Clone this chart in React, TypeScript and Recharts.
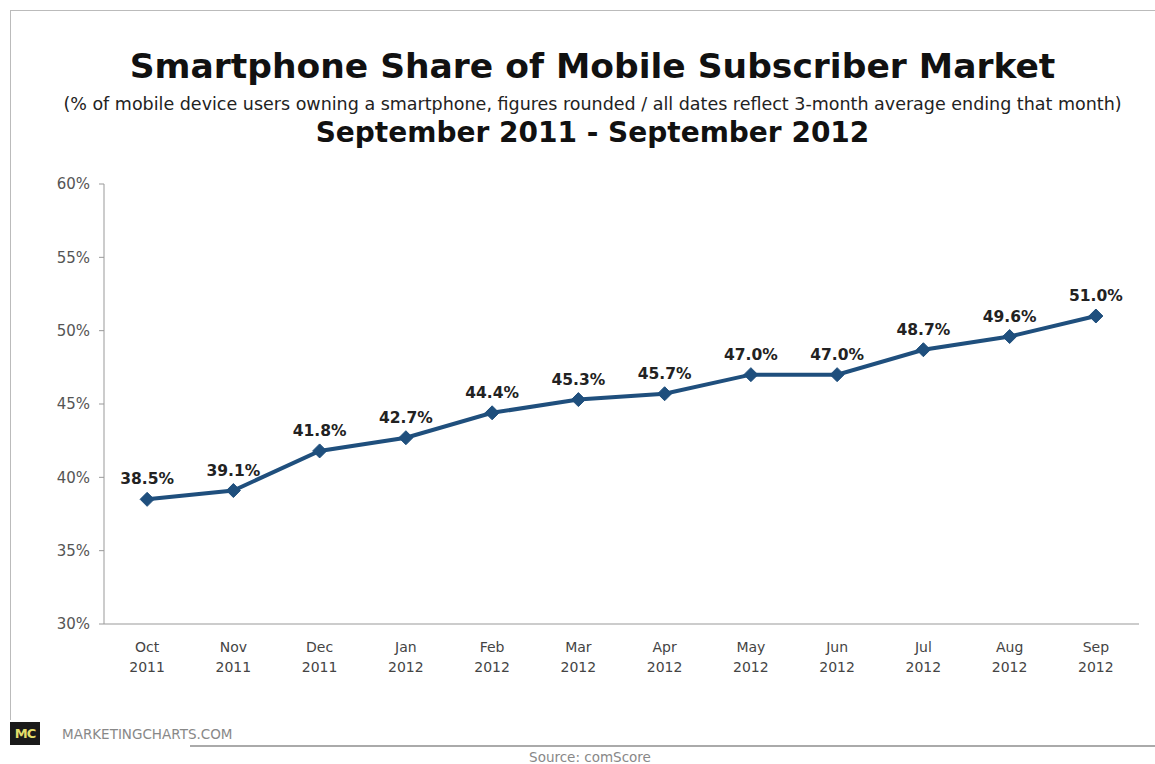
import React from 'react';
import { LineChart, Line, XAxis, YAxis, LabelList } from 'recharts';

// month labels (two lines each)
const months = ['Oct', 'Nov', 'Dec', 'Jan', 'Feb', 'Mar', 'Apr', 'May', 'Jun', 'Jul', 'Aug', 'Sep'];
const years = ['2011', '2011', '2011', '2012', '2012', '2012', '2012', '2012', '2012', '2012', '2012', '2012'];
// smartphone share, %
const share = [38.5, 39.1, 41.8, 42.7, 44.4, 45.3, 45.7, 47.0, 47.0, 48.7, 49.6, 51.0];
const yTicks = [30, 35, 40, 45, 50, 55, 60];

const data = share.map((v, i) => ({ idx: i, share: v }));
const labelTicks = months.map((_, i) => i);
const dividerTicks = [...months.map((_, i) => i - 0.5), months.length - 0.5];

const LINE = '#1f4f7d';
const FONT = '"DejaVu Sans", Verdana, sans-serif';

const Diamond = (props: any) => {
    const { cx, cy } = props;
    if (cx == null || cy == null) return null;
    const s = 7;
    return (
        <polygon
            points={`${cx},${cy - s} ${cx + s},${cy} ${cx},${cy + s} ${cx - s},${cy}`}
            fill={LINE}
            stroke={LINE}
        />
    );
};

const MonthTick = (props: any) => {
    const { x, y, payload } = props;
    const i = payload.value;
    return (
        <text x={x} y={y} textAnchor="middle" fontFamily={FONT} fontSize={14} fill="#444">
            <tspan x={x} dy={15}>{months[i]}</tspan>
            <tspan x={x} dy={20}>{years[i]}</tspan>
        </text>
    );
};

const App: React.FC = () => {
    return (
        <div style={{ position: 'absolute', left: 0, top: 0, width: 1155, height: 764, background: '#fff', fontFamily: FONT }}>
            {/* frame */}
            <div style={{ position: 'absolute', left: 10, top: 10, width: 1160, height: 735, border: '1px solid #bbb', borderRight: 'none' }} />

            <div style={{ position: 'absolute', left: 0, width: 1185, top: 45, textAlign: 'center', fontWeight: 'bold', fontSize: 34.5, color: '#111', lineHeight: '42px' }}>
                Smartphone Share of Mobile Subscriber Market
            </div>
            <div style={{ position: 'absolute', left: 0, width: 1185, top: 92, textAlign: 'center', fontSize: 17.5, color: '#222', lineHeight: '24px' }}>
                (% of mobile device users owning a smartphone, figures rounded / all dates reflect 3-month average ending that month)
            </div>
            <div style={{ position: 'absolute', left: 0, width: 1185, top: 116, textAlign: 'center', fontWeight: 'bold', fontSize: 28, color: '#111', lineHeight: '34px' }}>
                September 2011 - September 2012
            </div>

            <div style={{ position: 'absolute', left: 0, top: 0 }}>
                <LineChart width={1155} height={764} data={data} margin={{ top: 184, right: 16, bottom: 70, left: 0 }}>
                    <XAxis
                        xAxisId="axis"
                        dataKey="idx"
                        type="number"
                        domain={[-0.5, 11.5]}
                        ticks={dividerTicks}
                        tick={false}
                        tickSize={5}
                        stroke="#999"
                        height={5}
                    />
                    <XAxis
                        xAxisId="labels"
                        dataKey="idx"
                        type="number"
                        domain={[-0.5, 11.5]}
                        ticks={labelTicks}
                        tick={<MonthTick />}
                        tickLine={false}
                        axisLine={false}
                        height={65}
                    />
                    <YAxis
                        domain={[30, 60]}
                        ticks={yTicks}
                        tickFormatter={(v) => `${v}%`}
                        tick={{ fontSize: 15, fill: '#555', fontFamily: FONT }}
                        tickSize={5}
                        tickMargin={9}
                        stroke="#999"
                        width={104}
                    />
                    <Line
                        xAxisId="axis"
                        dataKey="share"
                        stroke={LINE}
                        strokeWidth={4}
                        dot={<Diamond />}
                        activeDot={false}
                        isAnimationActive={false}
                    >
                        <LabelList
                            dataKey="share"
                            position="top"
                            offset={15}
                            formatter={(v: any) => `${Number(v).toFixed(1)}%`}
                            style={{ fontSize: 15.5, fontWeight: 'bold', fill: '#222', fontFamily: FONT }}
                        />
                    </Line>
                </LineChart>
            </div>

            {/* logo + source */}
            <div style={{ position: 'absolute', left: 8, top: 720, width: 700, height: 30, background: '#fff' }} />
            <div style={{ position: 'absolute', left: 10, top: 722, width: 30, height: 23, background: '#1a1a1a', color: '#e3df6a', fontWeight: 'bold', fontSize: 13, lineHeight: '23px', textAlign: 'center', letterSpacing: -1 }}>
                MC
            </div>
            <div style={{ position: 'absolute', left: 62, top: 726, fontSize: 13.5, color: '#888' }}>MARKETINGCHARTS.COM</div>
            <div style={{ position: 'absolute', left: 190, top: 745, width: 980, height: 2, background: '#aaa' }} />
            <div style={{ position: 'absolute', left: 0, width: 1180, top: 749, textAlign: 'center', fontSize: 13.5, color: '#888' }}>Source: comScore</div>
        </div>
    );
};

export default App;
